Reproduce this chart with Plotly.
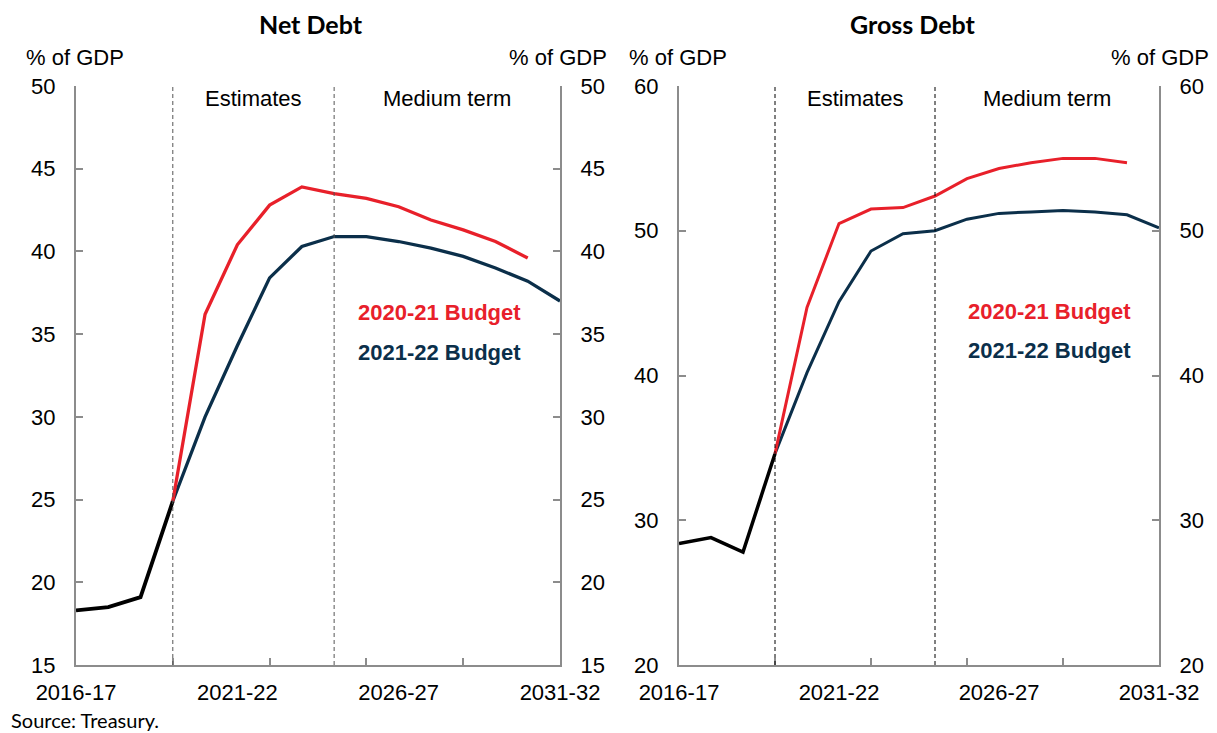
import plotly.graph_objects as go

# ---------------- data ----------------
years = ["2016-17", "2017-18", "2018-19", "2019-20", "2020-21", "2021-22", "2022-23",
         "2023-24", "2024-25", "2025-26", "2026-27", "2027-28", "2028-29", "2029-30",
         "2030-31", "2031-32"]
label_years = ["2016-17", "2021-22", "2026-27", "2031-32"]
tick_years = ["2019-20", "2022-23", "2025-26", "2028-29"]
estimates_start = "2019-20"
medium_start = "2024-25"

# Net debt (% of GDP)
net_actual_years = years[0:4]
net_actual = [18.3, 18.5, 19.1, 24.9]
net_2020_years = years[3:15]
net_2020 = [24.9, 36.2, 40.4, 42.8, 43.9, 43.5, 43.2, 42.7, 41.9, 41.3, 40.6, 39.6]
net_2021_years = years[3:16]
net_2021 = [24.9, 30.0, 34.3, 38.4, 40.3, 40.9, 40.9, 40.6, 40.2, 39.7, 39.0, 38.2, 37.0]

# Gross debt (% of GDP)
gross_actual_years = years[0:4]
gross_actual = [28.4, 28.8, 27.8, 34.6]
gross_2020_years = years[3:15]
gross_2020 = [34.6, 44.7, 50.5, 51.5, 51.6, 52.4, 53.6, 54.3, 54.7, 55.0, 55.0, 54.7]
gross_2021_years = years[3:16]
gross_2021 = [34.6, 40.2, 45.1, 48.6, 49.8, 50.0, 50.8, 51.2, 51.3, 51.4, 51.3, 51.1, 50.2]

net_range = [15, 50]
net_ticks = [15, 20, 25, 30, 35, 40, 45, 50]
gross_range = [20, 60]
gross_ticks = [20, 30, 40, 50, 60]

# ---------------- style ----------------
RED = "#E8202A"
NAVY = "#0B2F4A"
BLACK = "#000000"
AXIS = "#8C8C8C"
ARIAL = "Liberation Sans"
CAL = "Lato"

def idx(labels):
    return [years.index(y) for y in labels]

W, H = 1217, 733
ML, MR, MT, MB = 76, 58, 86, 68
PW, PH = W - ML - MR, H - MT - MB

def px_x(p):
    return (p - ML) / PW
def px_y(p):
    return (H - MB - p) / PH

left_dom = [0, px_x(560)]
right_dom = [px_x(679), 1]
y_dom = [0, 1]

fig = go.Figure()

def add_lines(xa, ya, act_y, act, a_y, a, b_y, b, lw):
    fig.add_trace(go.Scatter(x=idx(act_y), y=act, mode="lines", xaxis=xa, yaxis=ya,
                             line=dict(color=BLACK, width=lw + 0.5), showlegend=False))
    fig.add_trace(go.Scatter(x=idx(b_y), y=b, mode="lines", xaxis=xa, yaxis=ya,
                             line=dict(color=NAVY, width=lw), showlegend=False))
    fig.add_trace(go.Scatter(x=idx(a_y), y=a, mode="lines", xaxis=xa, yaxis=ya,
                             line=dict(color=RED, width=lw), showlegend=False))

add_lines("x", "y", net_actual_years, net_actual, net_2020_years, net_2020,
          net_2021_years, net_2021, 3.3)
add_lines("x2", "y3", gross_actual_years, gross_actual, gross_2020_years, gross_2020,
          gross_2021_years, gross_2021, 3.0)
# invisible traces so the right-hand axes render
fig.add_trace(go.Scatter(x=[0], y=[net_range[0]], xaxis="x", yaxis="y2", mode="markers",
                         marker=dict(opacity=0), showlegend=False, hoverinfo="skip"))
fig.add_trace(go.Scatter(x=[0], y=[gross_range[0]], xaxis="x2", yaxis="y4", mode="markers",
                         marker=dict(opacity=0), showlegend=False, hoverinfo="skip"))

xcommon = dict(range=[0, len(years) - 1], showgrid=False, zeroline=False, showline=True,
               linecolor=AXIS, linewidth=2, ticks="inside", ticklen=0, automargin=False,
               tickvals=idx(label_years), ticktext=label_years,
               tickfont=dict(family=ARIAL, size=22, color="#000"),
               ticklabelstandoff=7,
               minor=dict(tickvals=idx(tick_years), ticks="inside", ticklen=7,
                          tickcolor=AXIS, tickwidth=1.5, showgrid=False))

def ycommon(rng, tv, side):
    return dict(range=rng, tickvals=tv, showgrid=False, zeroline=False, showline=True,
                linecolor=AXIS, linewidth=2, ticks="inside", ticklen=7, tickcolor=AXIS,
                tickwidth=1.5, side=side, ticklabelstandoff=14, automargin=False,
                tickfont=dict(family=ARIAL, size=22, color="#000"))

fig.update_layout(
    width=W, height=H, margin=dict(l=ML, r=MR, t=MT, b=MB, autoexpand=False),
    paper_bgcolor="white", plot_bgcolor="white",
    xaxis=dict(domain=left_dom, anchor="y", **xcommon),
    xaxis2=dict(domain=right_dom, anchor="y3", **xcommon),
    yaxis=dict(domain=y_dom, anchor="x", **ycommon(net_range, net_ticks, "left")),
    yaxis2=dict(overlaying="y", anchor="x", **ycommon(net_range, net_ticks, "right")),
    yaxis3=dict(domain=y_dom, anchor="x2", **ycommon(gross_range, gross_ticks, "left")),
    yaxis4=dict(overlaying="y3", anchor="x2", **ycommon(gross_range, gross_ticks, "right")),
)

# dashed vertical lines
for xr, yr, col in [("x", "y domain", "#555555"), ("x2", "y3 domain", "#000000")]:
    for yrname in [estimates_start, medium_start]:
        xv = years.index(yrname)
        fig.add_shape(type="line", xref=xr, yref=yr, x0=xv, x1=xv, y0=0, y1=1,
                      line=dict(color=col, width=1, dash="4px,3px"))

ann = []
def text(x, y, s, xref, yref, size=22, color="#000", family=ARIAL, xanchor="center",
         bold=False):
    ann.append(dict(x=x, y=y, xref=xref, yref=yref, text=("<b>%s</b>" % s) if bold else s,
                    showarrow=False, xanchor=xanchor, yanchor="middle",
                    font=dict(family=family, size=size, color=color)))

# titles
text(px_x(311), px_y(24), "Net Debt", "paper", "paper", size=25, family=CAL, bold=True)
text(px_x(913), px_y(24), "Gross Debt", "paper", "paper", size=25, family=CAL, bold=True)
# unit labels
text(px_x(24), px_y(58), "% of GDP", "paper", "paper", xanchor="left")
text(px_x(609), px_y(58), "% of GDP", "paper", "paper", xanchor="right")
text(px_x(627), px_y(58), "% of GDP", "paper", "paper", xanchor="left")
text(px_x(1211), px_y(58), "% of GDP", "paper", "paper", xanchor="right")
# period labels
e0, m0, last = years.index(estimates_start), years.index(medium_start), len(years) - 1
for xr in ["x", "x2"]:
    yr = "y domain" if xr == "x" else "y3 domain"
    text((e0 + m0) / 2, 0.979, "Estimates", xr, yr)
    text((m0 + last) / 2, 0.979, "Medium term", xr, yr)
# series labels
text(13.85, 36.3, "2020-21 Budget", "x", "y", color=RED, xanchor="right", bold=True)
text(13.85, 33.9, "2021-22 Budget", "x", "y", color=NAVY, xanchor="right", bold=True)
text(14.2, 44.4, "2020-21 Budget", "x2", "y3", color=RED, xanchor="right", bold=True)
text(14.2, 41.7, "2021-22 Budget", "x2", "y3", color=NAVY, xanchor="right", bold=True)
# source
text(px_x(9), px_y(720), "Source: Treasury.", "paper", "paper", size=20, family=CAL,
     xanchor="left")

fig.update_layout(annotations=ann)
fig.write_html("out.html")
